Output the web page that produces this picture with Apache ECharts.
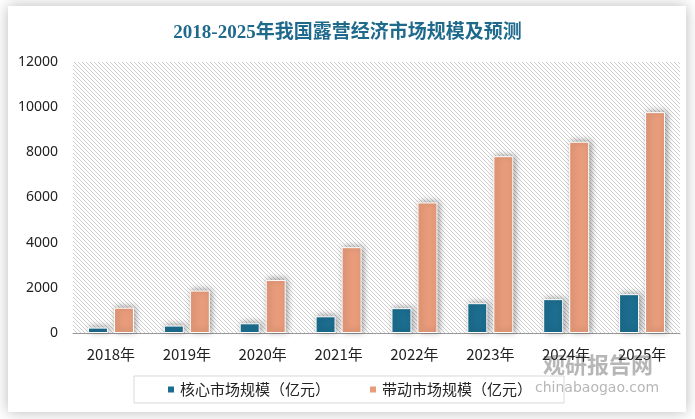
<!DOCTYPE html>
<html><head><meta charset="utf-8">
<script src="https://cdn.jsdelivr.net/npm/echarts@6/dist/echarts.min.js"></script>
<style>html,body{margin:0;padding:0;background:#fff;}#c{width:695px;height:419px;}</style>
</head><body><div id="c"></div>
<script>
const categories = ['2018年','2019年','2020年','2021年','2022年','2023年','2024年','2025年'];
const coreValues = [240, 330, 430, 740, 1100, 1320, 1500, 1720];
const drivenValues = [1120, 1880, 2350, 3800, 5780, 7830, 8470, 9780];
const seriesNames = ['核心市场规模（亿元）', '带动市场规模（亿元）'];
const yTicks = {min: 0, max: 12000, interval: 2000};

const pc = document.createElement('canvas');
pc.width = 4; pc.height = 4;
const g = pc.getContext('2d');
g.fillStyle = '#ffffff'; g.fillRect(0,0,4,4);
g.strokeStyle = '#cfcfcf'; g.lineWidth = 1;
g.beginPath(); g.moveTo(-1,-1); g.lineTo(5,5); g.moveTo(-1,3); g.lineTo(1,5); g.moveTo(3,-1); g.lineTo(5,1); g.stroke();

const chart = echarts.init(document.getElementById('c'), null, {renderer: 'canvas'});
const barStyle = (color) => ({
  color: color, borderColor: '#ffffff', borderWidth: 1,
  shadowColor: 'rgba(0,0,0,0.35)', shadowBlur: 6, shadowOffsetX: 2, shadowOffsetY: -1
});
chart.setOption({
  animation: false,
  graphic: [
    {type: 'rect', z: -10, shape: {x: 8, y: 6, width: 678, height: 406},
     style: {fill: '#fff', shadowBlur: 14, shadowColor: 'rgba(0,0,0,0.28)'}},
    {type: 'text', z: 0, left: 543, top: 354, style: {text: '观研报告网', fill: 'rgba(110,110,110,0.5)', font: 'bold 22px "Noto Sans CJK SC"'}},
    {type: 'text', z: 0, left: 535, top: 381, style: {text: 'chinabaogao.com', fill: 'rgba(110,110,110,0.5)', font: '14px "DejaVu Sans"'}}
  ],
  title: {
    text: '2018-2025年我国露营经济市场规模及预测', left: 'center', top: 19,
    textStyle: {color: '#1f6a8c', fontSize: 19, fontWeight: 'bold', fontFamily: '"Liberation Serif", "Noto Sans CJK SC", serif'}
  },
  grid: {left: 73, right: 15, top: 62, bottom: 86, show: true, borderWidth: 0,
         backgroundColor: {image: pc, repeat: 'repeat'}},
  legend: {
    bottom: 16, left: 134, itemWidth: 8, itemHeight: 8, itemGap: 38, icon: 'rect',
    borderColor: '#d9d9d9', borderWidth: 1, padding: [6, 32, 6, 32],
    textStyle: {fontSize: 15, color: '#222', fontFamily: '"Noto Sans CJK SC"'},
    data: seriesNames
  },
  xAxis: {
    type: 'category', data: categories,
    axisLine: {lineStyle: {color: '#999', width: 1}}, axisTick: {show: false},
    axisLabel: {fontSize: 15, color: '#222', margin: 14, fontFamily: '"Noto Sans CJK SC"'}
  },
  yAxis: {
    type: 'value', min: yTicks.min, max: yTicks.max, interval: yTicks.interval,
    splitLine: {show: false}, axisLine: {show: false}, axisTick: {show: false},
    axisLabel: {fontSize: 14, color: '#222', margin: 15, fontFamily: '"Noto Sans", sans-serif',
                formatter: (v) => String(v)}
  },
  series: [
    {name: seriesNames[0], type: 'bar', data: coreValues, barWidth: 20, barGap: '30%', itemStyle: barStyle('#1c6d8f')},
    {name: seriesNames[1], type: 'bar', data: drivenValues, barWidth: 20, itemStyle: barStyle('#e89c7b')}
  ]
});
</script></body></html>
